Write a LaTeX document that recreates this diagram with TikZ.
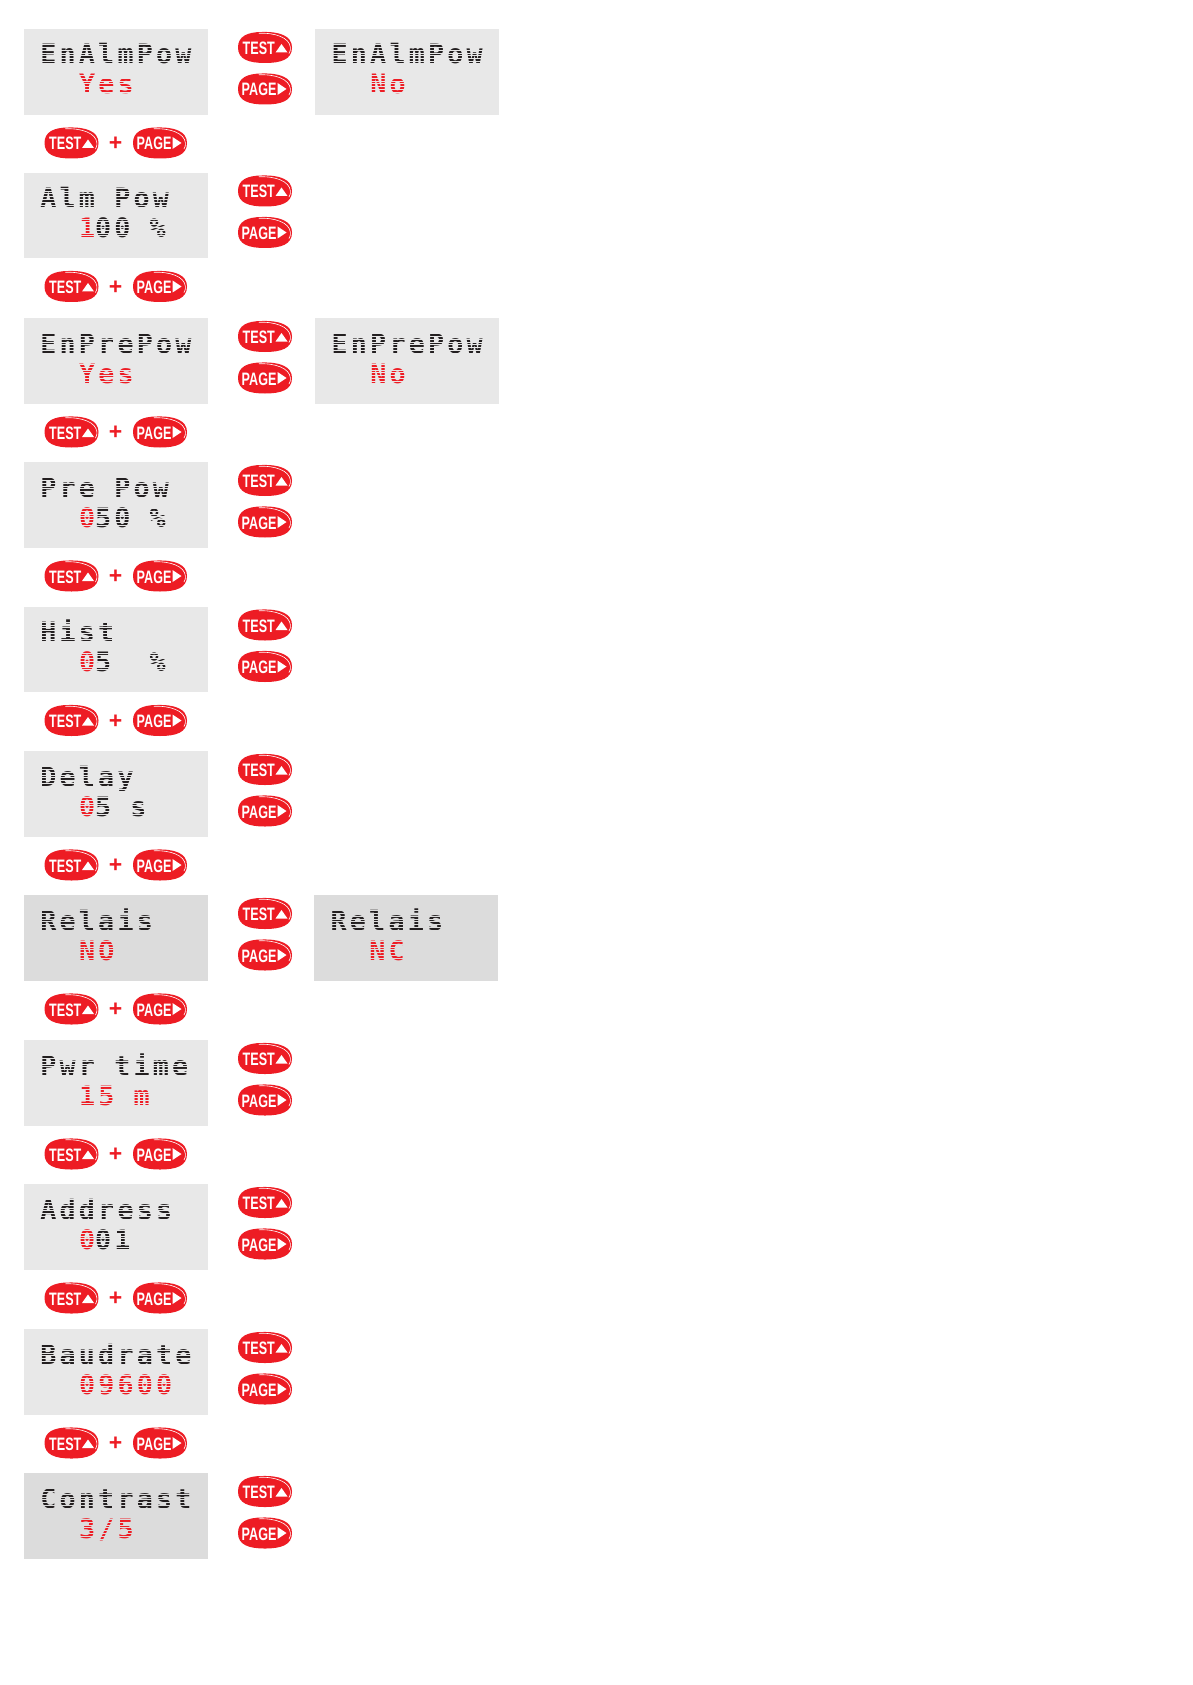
\documentclass[tikz,border=0pt]{standalone}
\usepackage{fontspec}
\setmainfont{Liberation Sans}
\newfontfamily\lcdfont[LetterSpace=12]{DejaVu Sans Mono}
\newfontfamily\btnfont[FakeStretch=0.70]{Liberation Sans}
\definecolor{lcdred}{HTML}{ED1C24}
\definecolor{lcdink}{HTML}{231F20}
\definecolor{lightlcd}{HTML}{E8E8E8}
\definecolor{darklcd}{HTML}{DCDCDC}
\tikzset{
  lcdbox/.style={rectangle,draw=none,inner sep=0,minimum width=184pt,minimum height=85.5pt,anchor=north west},
  lcdtext/.style={inner sep=0,anchor=base west,text=lcdink,font=\lcdfont\bfseries\fontsize{26.7}{28}\selectfont},
  btnlabel/.style={inner sep=0,anchor=base west,text=white,font=\btnfont\bfseries\fontsize{18}{18}\selectfont},
  btnbody/.style={fill=lcdred,draw=none},
  btnshine/.style={draw=white,line width=.6pt,line cap=round},
  plussign/.style={inner sep=0,text=lcdred,font=\bfseries\fontsize{23}{23}\selectfont}
}
\newcommand{\btnshape}[2]{%
  \begin{scope}[shift={(#1,#2)}]
    \path[btnbody] (-27,0) .. controls (-27,-11) and (-18,-15.5) .. (-3,-15.5)
      .. controls (14,-16) and (27,-12) .. (27,0)
      .. controls (27,12) and (16,15.5) .. (0,15.5)
      .. controls (-16,15.5) and (-27,12) .. (-27,0) -- cycle;
    \draw[btnshine] (-6,-14.2) .. controls (10,-14.9) and (24.5,-10) .. (25.4,0)
      .. controls (25.6,2) and (25.3,4) .. (24,6);
  \end{scope}}
\newcommand{\testbtn}[3]{%
  \btnshape{#2}{#3}
  \node[btnlabel] (#1) at (#2-22.5,#3+7) {TEST};
  \path[fill=white] (#2+10.5,#3+5) -- (#2+22.5,#3+5) -- (#2+16.5,#3-3.5) -- cycle;}
\newcommand{\pagebtn}[3]{%
  \btnshape{#2}{#3}
  \node[btnlabel] (#1) at (#2-23.5,#3+7) {PAGE};
  \path[fill=white] (#2+12.5,#3-6) -- (#2+21.5,#3) -- (#2+12.5,#3+6) -- cycle;}
% name, left, top, fill, text x, line 1, line 2
\newcommand{\lcdpanel}[7]{%
  \node[lcdbox,fill=#4] (#1) at (#2,#3) {};
  \node[lcdtext] (#1a) at (#5,#3+35) {#6};
  \node[lcdtext] (#1b) at (#5+38.6,#3+65) {#7};
  \begin{scope}[shift={(#5,#3+15.5)}]
    \foreach \k in {0,...,18} \draw[#4,line width=.5pt] (-2,\k*2.8+.0) -- (164,\k*2.8+.0);
  \end{scope}}
\newcommand{\red}[1]{\textcolor{lcdred}{#1}}
\begin{document}
\begin{tikzpicture}[x=1pt,y=-1pt]
\useasboundingbox (0,0) rectangle (1192,1685);
\lcdpanel{p0}{24}{29}{lightlcd}{40.2}{EnAlmPow}{\red{Yes}}
\lcdpanel{q0}{315}{29}{lightlcd}{331.5}{EnAlmPow}{\red{No}}
\lcdpanel{p1}{24}{172.5}{lightlcd}{40.2}{Alm~Pow}{\red{1}00~\%}
\lcdpanel{p2}{24}{318}{lightlcd}{40.2}{EnPrePow}{\red{Yes}}
\lcdpanel{q2}{314.5}{318}{lightlcd}{331.5}{EnPrePow}{\red{No}}
\lcdpanel{p3}{24}{462}{lightlcd}{40.2}{Pre~Pow}{\red{0}50~\%}
\lcdpanel{p4}{24}{606.5}{lightlcd}{40.2}{Hist}{\red{0}5~~\%}
\lcdpanel{p5}{24}{751}{lightlcd}{40.2}{Delay}{\red{0}5~s}
\lcdpanel{p6}{24}{895}{darklcd}{40.2}{Relais}{\red{NO}}
\lcdpanel{q6}{314}{895}{darklcd}{330.5}{Relais}{\red{NC}}
\lcdpanel{p7}{24}{1040}{lightlcd}{40.2}{Pwr~time}{\red{15~m}}
\lcdpanel{p8}{24}{1184}{lightlcd}{40.2}{Address}{\red{0}01}
\lcdpanel{p9}{24}{1329}{lightlcd}{40.2}{Baudrate}{\red{09600}}
\lcdpanel{p10}{24}{1473}{darklcd}{40.2}{Contrast}{\red{3/5}}
\foreach \r/\T in {0/29,1/172.5,2/318,3/462,4/606.5,5/751,6/895,7/1040,8/1184,9/1329,10/1473}{
  \testbtn{rt\r}{265}{\T+18.5}
  \pagebtn{rp\r}{265}{\T+60}
}
\foreach \r/\T in {0/29,1/172.5,2/318,3/462,4/606.5,5/751,6/895,7/1040,8/1184,9/1329}{
  \testbtn{bt\r}{71.5}{\T+114}
  \node[plussign] (plus\r) at (115.5,\T+115) {+};
  \pagebtn{bp\r}{160}{\T+114}
}
\end{tikzpicture}
\end{document}
